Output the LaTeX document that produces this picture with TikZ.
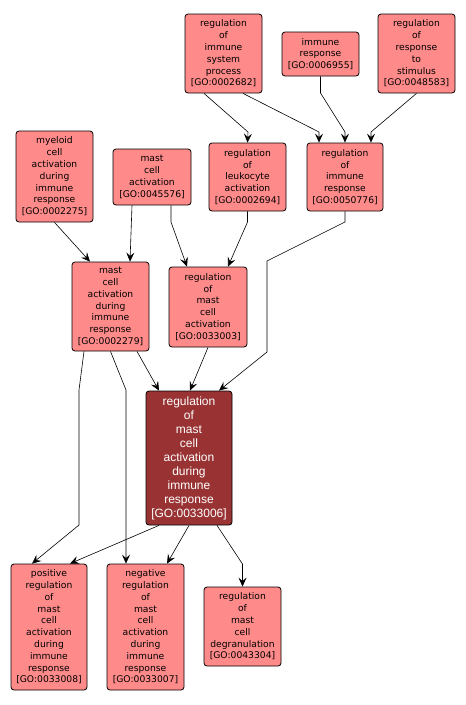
\documentclass[tikz,border=0pt]{standalone}
\usepackage{fontspec}
\setmainfont{DejaVu Sans}
\newfontfamily\mainfont{Liberation Sans}
\usetikzlibrary{arrows.meta}

\definecolor{golight}{RGB}{255,138,138}
\definecolor{godark}{RGB}{153,51,51}

\tikzset{
  gobox/.style={draw=black, line width=0.8pt, rounded corners=3pt, fill=golight,
    align=center, inner sep=0pt, font=\fontsize{9.2}{11.8}\selectfont},
  gomain/.style={gobox, fill=godark, text=white, font=\mainfont\fontsize{12}{14}\selectfont},
  goedge/.style={draw=black, line width=0.6pt, -{Stealth[length=9pt,width=8pt,inset=3.5pt]}},
}

\begin{document}
\begin{tikzpicture}[x=1pt, y=-1pt, line join=round]

  %% ════ 上层节点 ════
  \node[gobox, minimum width=77pt, minimum height=79pt] (risp) at (223.5,53.5)
    {regulation\\of\\immune\\system\\process\\{[GO:0002682]}};
  \node[gobox, minimum width=77pt, minimum height=44pt] (imr) at (320.5,54)
    {immune\\response\\{[GO:0006955]}};
  \node[gobox, minimum width=77pt, minimum height=79pt] (rrs) at (416.5,53.5)
    {regulation\\of\\response\\to\\stimulus\\{[GO:0048583]}};

  %% ════ 第二层 ════
  \node[gobox, minimum width=77pt, minimum height=91pt] (myel) at (54.5,176.5)
    {myeloid\\cell\\activation\\during\\immune\\response\\{[GO:0002275]}};
  \node[gobox, minimum width=78pt, minimum height=56pt] (mca) at (152,177)
    {mast\\cell\\activation\\{[GO:0045576]}};
  \node[gobox, minimum width=77pt, minimum height=68pt] (rla) at (247.5,177)
    {regulation\\of\\leukocyte\\activation\\{[GO:0002694]}};
  \node[gobox, minimum width=76pt, minimum height=68pt] (rir) at (345,177)
    {regulation\\of\\immune\\response\\{[GO:0050776]}};

  %% ════ 第三层 ════
  \node[gobox, minimum width=77pt, minimum height=89pt] (mcadir) at (110.5,306.5)
    {mast\\cell\\activation\\during\\immune\\response\\{[GO:0002279]}};
  \node[gobox, minimum width=78pt, minimum height=80pt] (rmca) at (208,307)
    {regulation\\of\\mast\\cell\\activation\\{[GO:0033003]}};

  %% ════ 当前词条 ════
  \node[gomain, minimum width=86pt, minimum height=134pt] (rmcadir) at (189,458)
    {regulation\\of\\mast\\cell\\activation\\during\\immune\\response\\{[GO:0033006]}};

  %% ════ 下层节点 ════
  \node[gobox, minimum width=76pt, minimum height=126pt] (pos) at (49,627)
    {positive\\regulation\\of\\mast\\cell\\activation\\during\\immune\\response\\{[GO:0033008]}};
  \node[gobox, minimum width=77pt, minimum height=126pt] (neg) at (145.5,627)
    {negative\\regulation\\of\\mast\\cell\\activation\\during\\immune\\response\\{[GO:0033007]}};
  \node[gobox, minimum width=77pt, minimum height=79pt] (deg) at (242.5,626.5)
    {regulation\\of\\mast\\cell\\degranulation\\{[GO:0043304]}};

  %% ════ 连线 ════
  \draw[goedge] ([xshift=-19.5pt]risp.south) -- (248,132) -- (rla.north);
  \draw[goedge] ([xshift=19.5pt]risp.south) -- (319,132) -- ([xshift=-26pt]rir.north);
  \draw[goedge] (imr.south) -- (320.5,93) -- (345,132) -- (rir.north);
  \draw[goedge] (rrs.south) -- (371,132) -- ([xshift=26pt]rir.north);
  \draw[goedge] (myel.south) -- ([xshift=-20.5pt]mcadir.north);
  \draw[goedge] ([xshift=-20pt]mca.south) -- ([xshift=19.5pt]mcadir.north);
  \draw[goedge] ([xshift=19pt]mca.south) -- (171,222) -- ([xshift=-21pt]rmca.north);
  \draw[goedge] (rla.south) -- (247.5,222) -- ([xshift=20pt]rmca.north);
  \draw[goedge] (rir.south) -- (345,222) -- (267,261) -- (267,352) -- ([xshift=30pt]rmcadir.north);
  \draw[goedge] ([xshift=26.5pt]mcadir.south) -- ([xshift=-30pt]rmcadir.north);
  \draw[goedge] (rmca.south) -- ([xshift=1pt]rmcadir.north);
  \draw[goedge] ([xshift=-26.5pt]mcadir.south) -- (79,390) -- (79,525) -- ([xshift=-17pt]pos.north);
  \draw[goedge] (mcadir.south) -- (126,390) -- ([xshift=-19.5pt]neg.north);
  \draw[goedge] ([xshift=-30pt]rmcadir.south) -- ([xshift=21pt]pos.north);
  \draw[goedge] (rmcadir.south) -- ([xshift=21.5pt]neg.north);
  \draw[goedge] ([xshift=28pt]rmcadir.south) -- (242.5,564) -- (deg.north);

  % 钉死画布
  \pgfresetboundingbox
  \path[use as bounding box] (0,0) rectangle (466,705);
\end{tikzpicture}
\end{document}
